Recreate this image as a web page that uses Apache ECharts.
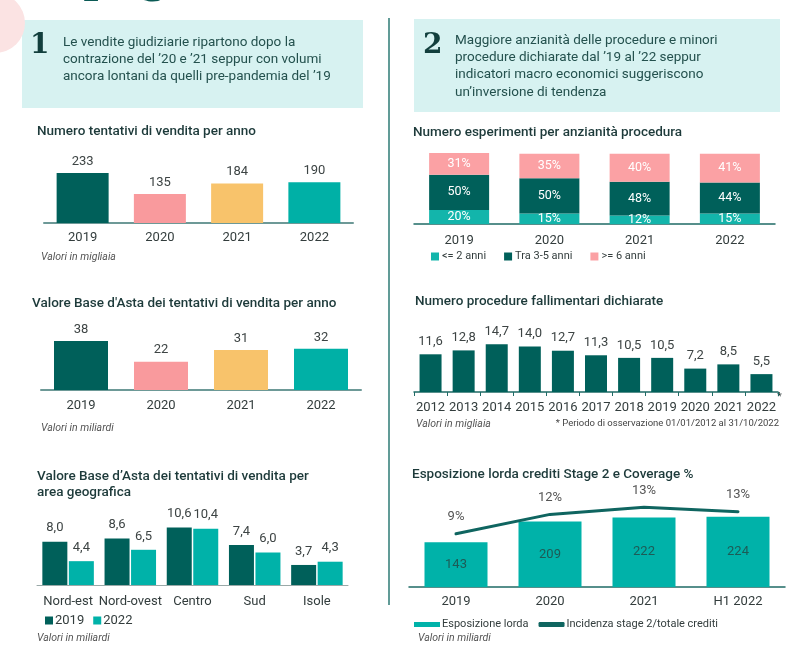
<!DOCTYPE html>
<html>
<head>
<meta charset="utf-8">
<script src="https://cdn.jsdelivr.net/npm/echarts@6/dist/echarts.min.js"></script>
<style>
  html, body { margin: 0; padding: 0; background: #fff; }
  #main_chart { width: 801px; height: 655px; }
</style>
</head>
<body>
<div id="main_chart"></div>
<script>
// dati dei grafici
const anni = ['2019', '2020', '2021', '2022'];
const tentativi = [233, 135, 184, 190];
const valoreBase = [38, 22, 31, 32];
const aree = ['Nord-est', 'Nord-ovest', 'Centro', 'Sud', 'Isole'];
const area2019 = [8.0, 8.6, 10.6, 7.4, 3.7];
const area2022 = [4.4, 6.5, 10.4, 6.0, 4.3];
const anzFino2 = [20, 15, 12, 15];
const anzTra3e5 = [50, 50, 48, 44];
const anzOltre6 = [31, 35, 40, 41];
const anniFall = ['2012', '2013', '2014', '2015', '2016', '2017', '2018', '2019', '2020', '2021', '2022'];
const fallimenti = [11.6, 12.8, 14.7, 14.0, 12.7, 11.3, 10.5, 10.5, 7.2, 8.5, 5.5];
const periodiStage = ['2019', '2020', '2021', 'H1 2022'];
const esposizione = [143, 209, 222, 224];
const incidenza = [9.2, 12.2, 13.3, 12.6];

const coloriAnni = ['#00605a', '#f99a9d', '#f8c36b', '#00b0a6'];
const SCURO = '#00605a';
const TEAL = '#00b2a9';
const ROSA = '#fba1a4';
const FONT = 'Roboto, "Noto Sans", sans-serif';
const TESTO = '#333d3d';

const myChart = echarts.init(document.getElementById('main_chart'));

function virgola(v) {
    return v.toFixed(1).replace('.', ',');
}

function asseX(grid, dati, colore, spessore, margine, extra) {
    return Object.assign({
        type: 'category',
        gridIndex: grid,
        data: dati,
        axisLine: { lineStyle: { color: colore, width: spessore } },
        axisTick: { show: false },
        axisLabel: { color: TESTO, fontSize: 13, fontFamily: FONT, margin: margine, interval: 0 }
    }, extra || {});
}

function asseY(grid, max, min) {
    return { type: 'value', gridIndex: grid, min: min || 0, max: max, show: false };
}

function testo(t, x, y, size, extra) {
    return {
        type: 'text',
        style: {
            text: t, x: x, y: y,
            font: (extra && extra.font) || (size + 'px ' + FONT),
            fill: (extra && extra.fill) || TESTO,
            verticalAlign: 'middle',
            textAlign: (extra && extra.align) || 'left'
        }
    };
}

function titolo(t, x, y) {
    return testo(t, x, y, 13.5, { font: '500 13.5px ' + FONT, fill: '#1d3a3a' });
}

function nota(t, x, y, align) {
    return testo(t, x, y, 10.5, { font: 'italic 10.5px ' + FONT, fill: '#555', align: align });
}

const txtBox = '#24514e';
const graphic = [
    testo('One page', 196, -19, 42, { font: 'bold 42px "DejaVu Serif", serif', fill: '#0b5a55', align: 'right' }),
    { type: 'circle', shape: { cx: -5, cy: 23, r: 30 }, style: { fill: '#fbe3e3' }, z: 10 },
    { type: 'rect', shape: { x: 22, y: 20, width: 341, height: 88 }, style: { fill: '#d7f2f1' } },
    { type: 'rect', shape: { x: 414, y: 19, width: 366, height: 93 }, style: { fill: '#d7f2f1' } },
    { type: 'line', shape: { x1: 389, y1: 18, x2: 389, y2: 605 }, style: { stroke: '#2d7a74', lineWidth: 1.5 } },
    testo('1', 30, 46, 28, { font: 'bold 28px "DejaVu Serif", serif', fill: '#123f3d' }),
    testo('Le vendite giudiziarie ripartono dopo la', 63, 43, 13.5, { fill: txtBox }),
    testo('contrazione del \u201920 e \u201921 seppur con volumi', 63, 60, 13.5, { fill: txtBox }),
    testo('ancora lontani da quelli pre-pandemia del \u201919', 63, 77, 13.5, { fill: txtBox }),
    testo('2', 423, 46, 28, { font: 'bold 28px "DejaVu Serif", serif', fill: '#123f3d' }),
    testo('Maggiore anzianit\u00e0 delle procedure e minori', 455, 41, 13.5, { fill: txtBox }),
    testo('procedure dichiarate dal \u201919 al \u201922 seppur', 455, 58, 13.5, { fill: txtBox }),
    testo('indicatori macro economici suggeriscono', 455, 75, 13.5, { fill: txtBox }),
    testo('un\u2019inversione di tendenza', 455, 93, 13.5, { fill: txtBox }),

    titolo('Numero tentativi di vendita per anno', 37, 132),
    nota('Valori in migliaia', 41, 257),
    titolo("Valore Base d'Asta dei tentativi di vendita per anno", 32, 304),
    nota('Valori in miliardi', 41, 428),
    titolo('Valore Base d\u2019Asta dei tentativi di vendita per', 37, 477),
    titolo('area geografica', 37, 493),
    nota('Valori in miliardi', 37, 638),

    titolo('Numero esperimenti per anzianit\u00e0 procedura', 413, 133),
    titolo('Numero procedure fallimentari dichiarate', 415, 302),
    nota('Valori in migliaia', 416, 424),
    testo('* Periodo di osservazione 01/01/2012 al 31/10/2022', 779, 424, 9.5, { font: '9.5px ' + FONT, fill: '#444', align: 'right' }),
    testo('*', 777, 397, 11, { fill: TESTO }),
    titolo('Esposizione lorda crediti Stage 2 e Coverage %', 412, 475),
    nota('Valori in miliardi', 418, 638)
];

const labelSopra = { show: true, position: 'top', color: '#3d4444', fontSize: 13, fontFamily: FONT };

var option = {
    animation: false,
    textStyle: { fontFamily: FONT },
    grid: [
        { left: 44, top: 163, width: 309, height: 60 },
        { left: 41, top: 332, width: 320, height: 58 },
        { left: 37, top: 520, width: 311, height: 65 },
        { left: 414, top: 153, width: 361, height: 71 },
        { left: 414, top: 327, width: 364, height: 65 },
        { left: 409, top: 493, width: 376, height: 94 }
    ],
    xAxis: [
        asseX(0, anni, '#6d9997', 2, 8),
        asseX(1, anni, '#6d9997', 2, 9),
        asseX(2, aree, '#9aa9a8', 1, 10),
        asseX(3, anni, '#1f6b66', 1.5, 10),
        asseX(4, anniFall, '#1f6b66', 1.5, 9, { axisTick: { show: true, length: 4, lineStyle: { color: '#1f6b66' } } }),
        asseX(5, periodiStage, '#1f6b66', 1.5, 8)
    ],
    yAxis: [
        asseY(0, 280),
        asseY(1, 45),
        asseY(2, 12),
        asseY(3, 101),
        asseY(4, 20),
        asseY(5, 300),
        asseY(5, 15.5, 1)
    ],
    legend: [
        {
            data: ['2019', '2022'], left: 40, top: 609, itemWidth: 8, itemHeight: 8, itemGap: 9,
            icon: 'rect', textStyle: { fontSize: 13, color: TESTO, padding: [0, 0, 0, -3] }
        },
        {
            data: ['<= 2 anni', 'Tra 3-5 anni', '>= 6 anni'], left: 426, top: 246, itemWidth: 8, itemHeight: 8, itemGap: 18,
            icon: 'rect', textStyle: { fontSize: 11, color: TESTO, padding: [0, 0, 0, -2] }
        },
        {
            data: [{ name: 'Esposizione lorda', icon: 'rect' }, { name: 'Incidenza stage 2/totale crediti', icon: 'roundRect' }],
            left: 409, top: 614, itemWidth: 26, itemHeight: 5, itemGap: 10,
            textStyle: { fontSize: 11, color: TESTO, padding: [0, 0, 0, -3] }
        }
    ],
    graphic: graphic,
    series: [
        {
            name: 'Tentativi', type: 'bar', xAxisIndex: 0, yAxisIndex: 0, barWidth: 52,
            data: tentativi.map(function (v, i) { return { value: v, itemStyle: { color: coloriAnni[i] } }; }),
            label: Object.assign({ distance: 5 }, labelSopra)
        },
        {
            name: 'Valore base', type: 'bar', xAxisIndex: 1, yAxisIndex: 1, barWidth: 54,
            data: valoreBase.map(function (v, i) { return { value: v, itemStyle: { color: coloriAnni[i] } }; }),
            label: Object.assign({ distance: 5 }, labelSopra)
        },
        {
            name: '2019', type: 'bar', xAxisIndex: 2, yAxisIndex: 2, barWidth: 25, barGap: '6%',
            itemStyle: { color: SCURO }, data: area2019,
            label: Object.assign({ distance: 7, formatter: function (p) { return virgola(p.value); } }, labelSopra)
        },
        {
            name: '2022', type: 'bar', xAxisIndex: 2, yAxisIndex: 2, barWidth: 25,
            itemStyle: { color: TEAL }, data: area2022,
            label: Object.assign({ distance: 7, formatter: function (p) { return virgola(p.value); } }, labelSopra)
        },
        {
            name: '<= 2 anni', type: 'bar', stack: 'anz', xAxisIndex: 3, yAxisIndex: 3, barWidth: 60,
            itemStyle: { color: '#13b5ab' }, data: anzFino2,
            label: { show: true, position: 'inside', color: '#fff', fontSize: 12.5, formatter: '{c}%' }
        },
        {
            name: 'Tra 3-5 anni', type: 'bar', stack: 'anz', xAxisIndex: 3, yAxisIndex: 3, barWidth: 60,
            itemStyle: { color: SCURO }, data: anzTra3e5,
            label: { show: true, position: 'inside', color: '#fff', fontSize: 12.5, formatter: '{c}%' }
        },
        {
            name: '>= 6 anni', type: 'bar', stack: 'anz', xAxisIndex: 3, yAxisIndex: 3, barWidth: 60,
            itemStyle: { color: ROSA }, data: anzOltre6,
            label: { show: true, position: 'inside', color: '#fff', fontSize: 12.5, formatter: '{c}%' }
        },
        {
            name: 'Fallimenti', type: 'bar', xAxisIndex: 4, yAxisIndex: 4, barWidth: 22,
            itemStyle: { color: SCURO }, data: fallimenti,
            label: Object.assign({ distance: 6, formatter: function (p) { return virgola(p.value); } }, labelSopra)
        },
        {
            name: 'Esposizione lorda', type: 'bar', xAxisIndex: 5, yAxisIndex: 5, barWidth: 63,
            itemStyle: { color: TEAL }, data: esposizione,
            label: { show: true, position: 'inside', color: '#1d5b56', fontSize: 13 }
        },
        {
            name: 'Incidenza stage 2/totale crediti', type: 'line', xAxisIndex: 5, yAxisIndex: 6,
            data: incidenza, symbol: 'circle', symbolSize: 1, showSymbol: true, clip: false, z: 5,
            lineStyle: { color: '#0f6560', width: 3, cap: 'round' },
            itemStyle: { color: '#0f6560' },
            label: {
                show: true, position: 'top', distance: 10, color: '#555', fontSize: 13,
                formatter: function (p) { return Math.round(p.value) + '%'; }
            }
        }
    ]
};

myChart.setOption(option);
window.onresize = function () {
    myChart.resize();
};
</script>
</body>
</html>
